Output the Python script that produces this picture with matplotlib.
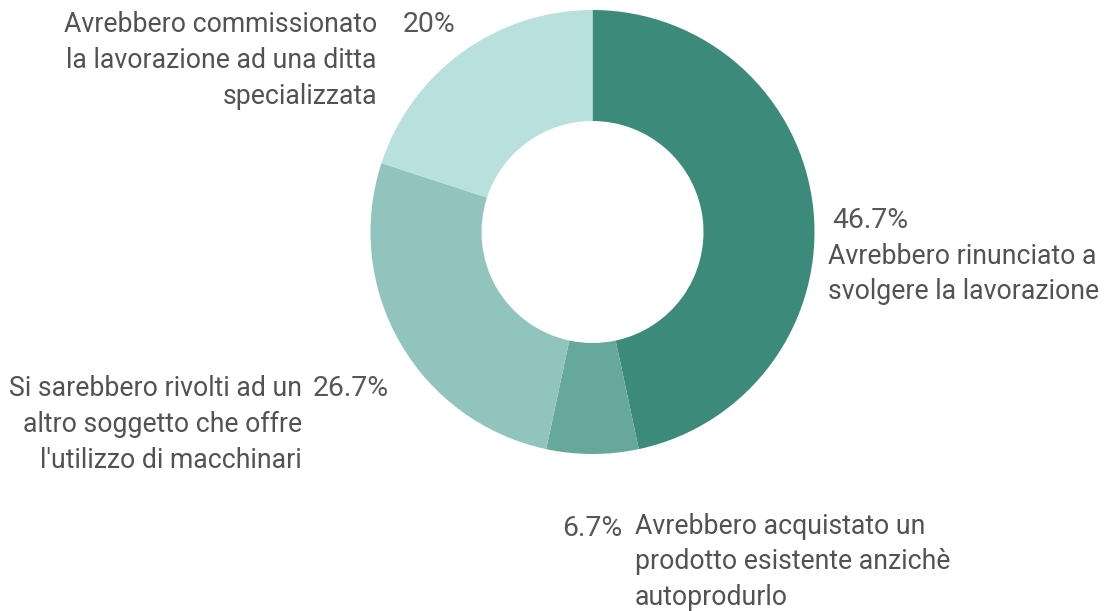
import matplotlib
matplotlib.use("Agg")
import matplotlib.pyplot as plt

categories = [
    "Avrebbero rinunciato a\nsvolgere la lavorazione",
    "Avrebbero acquistato un\nprodotto esistente anzichè\nautoprodurlo",
    "Si sarebbero rivolti ad un\naltro soggetto che offre\nl'utilizzo di macchinari",
    "Avrebbero commissionato\nla lavorazione ad una ditta\nspecializzata",
]
values = [46.7, 6.7, 26.7, 20.0]
pct_labels = ["46.7%", "6.7%", "26.7%", "20%"]
colors = ["#3b8a7a", "#66a89c", "#91c4bd", "#b8e0dc"]

W, H = 1108, 611
fig = plt.figure(figsize=(W / 100, H / 100), dpi=100)
ax = fig.add_axes([0, 0, 1, 1])
ax.pie(values, colors=colors, startangle=90, counterclock=False,
       center=(592.5, H - 232), radius=222,
       wedgeprops=dict(width=111, edgecolor="none"))
ax.set_xlim(0, W)
ax.set_ylim(0, H)
ax.set_aspect("equal")
ax.axis("off")

txt = dict(family=["Roboto", "DejaVu Sans"], fontsize=19.2, color="#525252")
ptxt = dict(family=["Roboto", "DejaVu Sans"], fontsize=20.4, color="#575757")
# (pct_x, pct_y, pct_ha, lab_x, lab_y0, lab_ha)
place = [
    (832, 220, "left", 828, 256, "left"),
    (622, 529, "right", 635, 526, "left"),
    (389, 389, "right", 302, 389, "right"),
    (456, 25, "right", 377, 25, "right"),
]
step = 35.7
for cat, pct, (px, py, pha, lx, ly, lha) in zip(categories, pct_labels, place):
    ax.text(px, H - py, pct, ha=pha, va="center", **ptxt)
    for i, line in enumerate(cat.split("\n")):
        ax.text(lx, H - (ly + i * step), line, ha=lha, va="center", **txt)

fig.savefig("out.png", dpi=100)
